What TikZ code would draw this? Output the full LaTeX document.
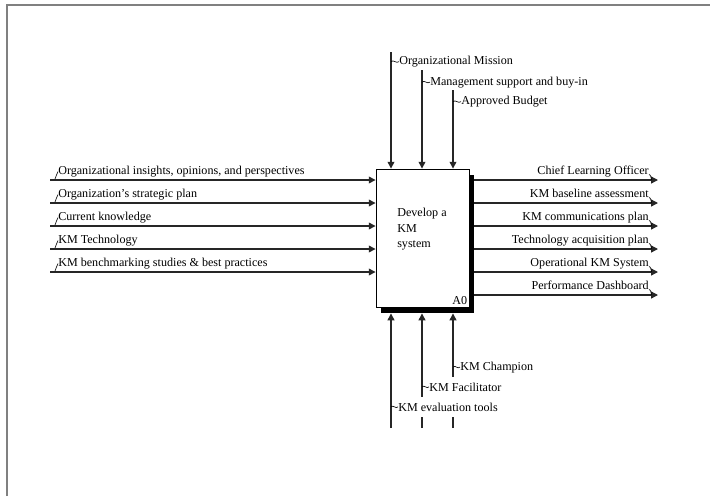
\documentclass[tikz,border=0pt]{standalone}
\usepackage{fontspec}
\setmainfont{Liberation Serif}
\usetikzlibrary{arrows.meta,positioning,shadows}

\begin{document}
\begin{tikzpicture}[x=0.025cm, y=-0.025cm,
  procbox/.style={rectangle, draw=black, fill=white, line width=0.6pt,
                  minimum width=2.325cm, minimum height=3.45cm,
                  drop shadow={shadow xshift=0.125cm, shadow yshift=-0.15cm,
                               fill=black, opacity=1}},
  lbl/.style={font=\fontsize{8.6}{11}\selectfont, inner sep=0pt, fill=white},
  mlbl/.style={lbl, inner ysep=0.15cm},
  arr/.style={-{Triangle[length=0.17cm, width=0.17cm]}, line width=0.9pt, draw=black!85},
  squig/.style={line width=0.45pt}
]
\useasboundingbox (0,0) rectangle (710,496);
% frame
\draw[gray, line width=1pt] (7,496) -- (7,5) -- (710,5);

% Activity box
\node[procbox] (box) at (422.5,238) {};
\node[lbl, anchor=north west, align=left] (boxtxt) at (397,208) {Develop a\\ KM\\ system};
\node[lbl, anchor=south east, inner sep=1.5pt] (a0) at (box.south east) {A0};
\coordinate (shr) at ([xshift=0.125cm]box.east);
\coordinate (shb) at ([yshift=-0.15cm]box.south);

% Inputs
\coordinate (in1) at (50,180);
\coordinate (in2) at (50,203);
\coordinate (in3) at (50,226);
\coordinate (in4) at (50,249);
\coordinate (in5) at (50,272);
\draw[arr] (in1) -- (in1 -| box.west);
\draw[arr] (in2) -- (in2 -| box.west);
\draw[arr] (in3) -- (in3 -| box.west);
\draw[arr] (in4) -- (in4 -| box.west);
\draw[arr] (in5) -- (in5 -| box.west);
\node[lbl, anchor=base west] (i1) at (58,174.5) {Organizational insights, opinions, and perspectives};
\node[lbl, anchor=base west] (i2) at (58,197.5) {Organization's strategic plan};
\node[lbl, anchor=base west] (i3) at (58,220.5) {Current knowledge};
\node[lbl, anchor=base west] (i4) at (58,243.5) {KM Technology};
\node[lbl, anchor=base west] (i5) at (58,266.5) {KM benchmarking studies \& best practices};
\draw[squig] (i1.west) .. controls +(-1,2) and +(1,-3) .. +(-3,7.5);
\draw[squig] (i2.west) .. controls +(-1,2) and +(1,-3) .. +(-3,7.5);
\draw[squig] (i3.west) .. controls +(-1,2) and +(1,-3) .. +(-3,7.5);
\draw[squig] (i4.west) .. controls +(-1,2) and +(1,-3) .. +(-3,7.5);
\draw[squig] (i5.west) .. controls +(-1,2) and +(1,-3) .. +(-3,7.5);

% Outputs
\coordinate (out1) at (658,180);
\coordinate (out2) at (658,203);
\coordinate (out3) at (658,226);
\coordinate (out4) at (658,249);
\coordinate (out5) at (658,272);
\coordinate (out6) at (658,295);
\draw[arr] (out1 -| shr) -- (out1);
\draw[arr] (out2 -| shr) -- (out2);
\draw[arr] (out3 -| shr) -- (out3);
\draw[arr] (out4 -| shr) -- (out4);
\draw[arr] (out5 -| shr) -- (out5);
\draw[arr] (out6 -| shr) -- (out6);
\node[lbl, anchor=base east] (o1) at (649,174.5) {Chief Learning Officer};
\node[lbl, anchor=base east] (o2) at (649,197.5) {KM baseline assessment};
\node[lbl, anchor=base east] (o3) at (649,220.5) {KM communications plan};
\node[lbl, anchor=base east] (o4) at (649,243.5) {Technology acquisition plan};
\node[lbl, anchor=base east] (o5) at (649,266.5) {Operational KM System};
\node[lbl, anchor=base east] (o6) at (649,289.5) {Performance Dashboard};
\draw[squig] (o1.base east) .. controls +(1.5,0) and +(0,-2) .. +(2.5,5.5);
\draw[squig] (o2.base east) .. controls +(1.5,0) and +(0,-2) .. +(2.5,5.5);
\draw[squig] (o3.base east) .. controls +(1.5,0) and +(0,-2) .. +(2.5,5.5);
\draw[squig] (o4.base east) .. controls +(1.5,0) and +(0,-2) .. +(2.5,5.5);
\draw[squig] (o5.base east) .. controls +(1.5,0) and +(0,-2) .. +(2.5,5.5);
\draw[squig] (o6.base east) .. controls +(1.5,0) and +(0,-2) .. +(2.5,5.5);

% Controls
\coordinate (ctl1) at (391,52);
\coordinate (ctl2) at (422,70);
\coordinate (ctl3) at (453,90);
\draw[arr] (ctl1) -- (ctl1 |- box.north);
\draw[arr] (ctl2) -- (ctl2 |- box.north);
\draw[arr] (ctl3) -- (ctl3 |- box.north);
\node[lbl, anchor=base west] (c1) at (399,64.5) {Organizational Mission};
\node[lbl, anchor=base west] (c2) at (430,85) {Management support and buy-in};
\node[lbl, anchor=base west] (c3) at (461,104.5) {Approved Budget};
\draw[squig] (c1.west -| ctl1) .. controls +(2.5,-2.5) and +(-2.5,2.5) .. (c1.west);
\draw[squig] (c2.west -| ctl2) .. controls +(2.5,-2.5) and +(-2.5,2.5) .. (c2.west);
\draw[squig] (c3.west -| ctl3) .. controls +(2.5,-2.5) and +(-2.5,2.5) .. (c3.west);

% Mechanisms
\coordinate (mec1) at (391,428);
\coordinate (mec2) at (422,428);
\coordinate (mec3) at (453,428);
\draw[arr] (mec1) -- (mec1 |- shb);
\draw[arr] (mec2) -- (mec2 |- shb);
\draw[arr] (mec3) -- (mec3 |- shb);
\node[mlbl, anchor=base west] (m3) at (460,370) {KM Champion};
\node[mlbl, anchor=base west] (m2) at (429,391) {KM Facilitator};
\node[mlbl, anchor=base west] (m1) at (398,411) {KM evaluation tools};
\draw[squig] (m1.west -| mec1) .. controls +(2.5,-2.5) and +(-2.5,2.5) .. (m1.west);
\draw[squig] (m2.west -| mec2) .. controls +(2.5,-2.5) and +(-2.5,2.5) .. (m2.west);
\draw[squig] (m3.west -| mec3) .. controls +(2.5,-2.5) and +(-2.5,2.5) .. (m3.west);
\end{tikzpicture}
\end{document}
